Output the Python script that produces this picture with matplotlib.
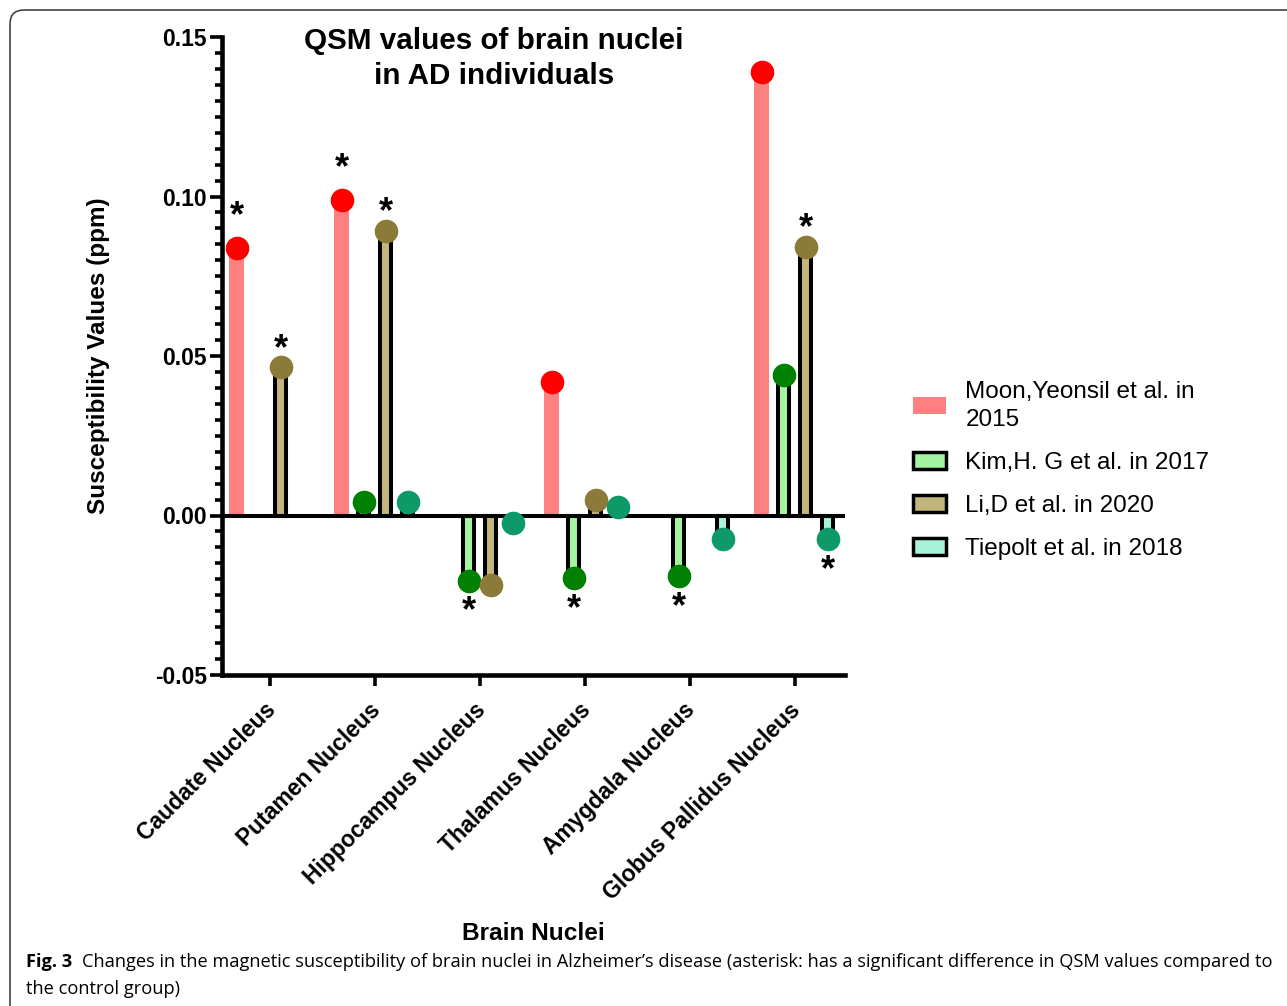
import matplotlib
matplotlib.use('Agg')
import matplotlib.pyplot as plt
from matplotlib.patches import Patch, FancyBboxPatch
from matplotlib.transforms import IdentityTransform, ScaledTranslation
from matplotlib.ticker import MultipleLocator
import numpy as np

plt.rcParams['font.family'] = ['Liberation Sans', 'DejaVu Sans']

# data
categories = ['Caudate Nucleus', 'Putamen Nucleus', 'Hippocampus Nucleus',
              'Thalamus Nucleus', 'Amygdala Nucleus', 'Globus Pallidus Nucleus']
series = ['Moon,Yeonsil et al. in\n2015', 'Kim,H. G et al. in 2017',
          'Li,D et al. in 2020', 'Tiepolt et al. in 2018']
nan = np.nan
moon = [0.0837, 0.0990, nan, 0.0420, nan, 0.1390]
kim = [nan, 0.0041, -0.0204, -0.0197, -0.0191, 0.0442]
li = [0.0464, 0.0893, -0.0219, 0.0050, nan, 0.0843]
tiepolt = [nan, 0.0041, -0.0022, 0.0028, -0.0075, -0.0075]
# asterisk = significant vs control group
moon_sig = [1, 1, 0, 0, 0, 0]
kim_sig = [0, 0, 1, 1, 1, 0]
li_sig = [1, 1, 0, 0, 0, 1]
tiepolt_sig = [0, 0, 0, 0, 0, 1]

values = [moon, kim, li, tiepolt]
sigs = [moon_sig, kim_sig, li_sig, tiepolt_sig]
bar_colors = ['#FF8080', '#A4F5A0', '#C2B67C', '#A8F2DA']
dot_colors = ['#FF0000', '#008000', '#8C7B38', '#0E9A68']
edged = [False, True, True, True]

W, H = 1287, 1006
fig = plt.figure(figsize=(W / 100, H / 100), dpi=100)
ax = fig.add_axes([222 / W, 1 - 675 / H, (845 - 222) / W, (675 - 37) / H])

x = np.arange(len(categories))
step = 0.21
offsets = [-1.5 * step, -0.5 * step, 0.5 * step, 1.5 * step]

for vals, sig, bc, dc, ed, off in zip(values, sigs, bar_colors, dot_colors, edged, offsets):
    v = np.array(vals, dtype=float)
    xs = x + off
    if ed:
        ax.bar(xs, v, width=0.105, color=bc, edgecolor='black', linewidth=2.9, zorder=2)
    else:
        ax.bar(xs, v, width=0.143, color=bc, linewidth=0, zorder=2)
    ax.plot(xs, v, 'o', ms=17, color=dc, mec='none', zorder=4)
    for xi, vi, s in zip(xs, v, sig):
        if not s:
            continue
        if vi > 0:
            dy = 10 if not ed else 0
        else:
            dy = -35 if off < 0.5 else -43
        ax.annotate('*', (xi, vi), xytext=(0, dy), textcoords='offset points',
                    ha='center', va='bottom', fontsize=26, fontweight='bold', zorder=5)

ax.axhline(0, color='black', lw=2.9, zorder=3)

ax.set_ylim(-0.05, 0.15)
ax.set_xlim(-0.457, 5.48)
ax.yaxis.set_major_locator(MultipleLocator(0.05))
ax.yaxis.set_minor_locator(MultipleLocator(0.005))
ax.set_yticks([-0.05, 0, 0.05, 0.10, 0.15])
ax.set_yticklabels(['-0.05', '0.00', '0.05', '0.10', '0.15'])
for sp in ['top', 'right']:
    ax.spines[sp].set_visible(False)
for sp in ['left', 'bottom']:
    ax.spines[sp].set_linewidth(3.3)
ax.tick_params(axis='y', which='major', length=9, width=2.6, pad=2, labelsize=16.5)
ax.tick_params(axis='y', which='minor', length=5, width=2.6)
ax.tick_params(axis='x', length=8, width=2.6, pad=6)
for lab in ax.get_yticklabels():
    lab.set_fontweight('bold')

ax.set_xticks(x)
ax.set_xticklabels(categories, rotation=45, ha='right', va='top',
                   rotation_mode='anchor', fontsize=16.5, fontweight='bold')
shift = ScaledTranslation(-6 / 100, -4 / 100, fig.dpi_scale_trans)
for lab in ax.get_xticklabels():
    lab.set_transform(lab.get_transform() + shift)

ax.set_ylabel('Susceptibility Values (ppm)', fontsize=17.5, fontweight='bold', labelpad=32)

fig.text(494 / W, 1 - 27 / H, 'QSM values of brain nuclei\nin AD individuals',
         ha='center', va='top', fontsize=21.3, fontweight='bold', linespacing=1.32)
fig.text(533 / W, 1 - 933 / H, 'Brain Nuclei', ha='center', va='center',
         fontsize=17.6, fontweight='bold')

handles = []
for bc, ed in zip(bar_colors, edged):
    if ed:
        handles.append(Patch(facecolor=bc, edgecolor='black', linewidth=2.5))
    else:
        handles.append(Patch(facecolor=bc, edgecolor='none'))
leg = fig.legend(handles, series, loc='upper left', bbox_to_anchor=(913 / W, 1 - 381 / H),
                 frameon=False, fontsize=17.5, handlelength=1.35, handleheight=0.7,
                 handletextpad=0.8, labelspacing=0.86, borderpad=0, borderaxespad=0)
for t in leg.get_texts():
    t.set_linespacing(1.35)

# caption
capfont = ['Liberation Sans Narrow', 'Open Sans', 'DejaVu Sans']
line1 = ('Changes in the magnetic susceptibility of brain nuclei in Alzheimer\u2019s disease '
         '(asterisk: has a significant difference in QSM values compared to')
line2 = 'the control group)'
fs = 14
r = fig.canvas.get_renderer()
t_b = fig.text(26 / W, 1 - 962 / H, 'Fig. 3', fontweight='bold', fontsize=fs,
               family=capfont, va='center')
t_1 = fig.text(0, 1 - 962 / H, line1, fontsize=fs, family=capfont, va='center')
total = t_b.get_window_extent(r).width + 10 + t_1.get_window_extent(r).width
fs = fs * (1278 - 26) / total
t_b.set_fontsize(fs)
t_1.set_fontsize(fs)
bx = t_b.get_window_extent(r).x1
t_1.set_x((bx + 10) / W)
fig.text(26 / W, 1 - 989 / H, line2, fontsize=fs, family=capfont, va='center')

border = FancyBboxPatch((10, -40), 1400, H - 10 + 40, boxstyle='round,pad=0,rounding_size=14',
                        transform=IdentityTransform(), facecolor='none',
                        edgecolor='#444444', linewidth=1.2)
fig.add_artist(border)

fig.savefig('out.png', dpi=100)
